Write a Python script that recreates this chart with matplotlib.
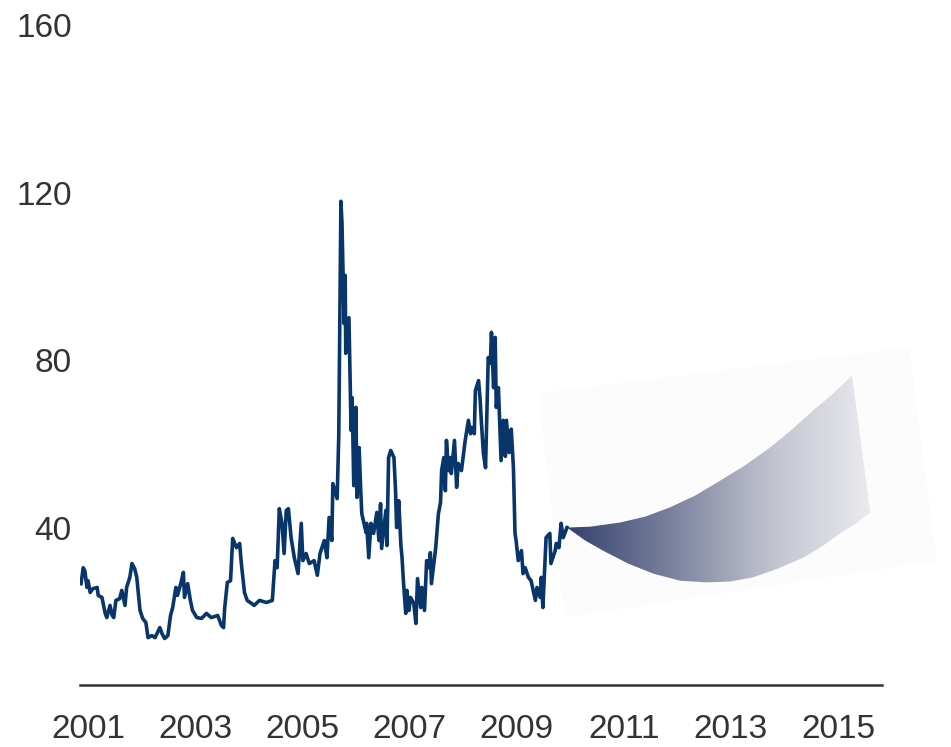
import numpy as np
import matplotlib.pyplot as plt
from matplotlib.colors import LinearSegmentedColormap
from matplotlib.patches import Polygon

plt.rcParams['font.family'] = ['Liberation Sans', 'DejaVu Sans']

# historical series (decimal year, value)
years = [2000.87, 2000.91, 2000.94, 2000.98, 2001.00, 2001.04, 2001.09, 2001.17, 2001.19, 2001.26,
         2001.32, 2001.35, 2001.41, 2001.45, 2001.48, 2001.52, 2001.59, 2001.63, 2001.69, 2001.72,
         2001.78, 2001.82, 2001.87, 2001.91, 2001.97, 2002.02, 2002.08, 2002.12, 2002.19, 2002.25,
         2002.34, 2002.38, 2002.43, 2002.49, 2002.54, 2002.58, 2002.64, 2002.67, 2002.73, 2002.78,
         2002.80, 2002.86, 2002.91, 2002.95, 2003.03, 2003.12, 2003.21, 2003.30, 2003.42, 2003.49,
         2003.53, 2003.55, 2003.60, 2003.66, 2003.70, 2003.77, 2003.83, 2003.86, 2003.92, 2003.97,
         2004.05, 2004.10, 2004.20, 2004.33, 2004.44, 2004.49, 2004.53, 2004.57, 2004.62, 2004.66,
         2004.70, 2004.74, 2004.79, 2004.85, 2004.92, 2004.98, 2005.01, 2005.07, 2005.13, 2005.22,
         2005.28, 2005.33, 2005.41, 2005.46, 2005.50, 2005.55, 2005.57, 2005.65, 2005.68, 2005.72,
         2005.74, 2005.78, 2005.80, 2005.81, 2005.87, 2005.91, 2005.93, 2005.96, 2006.00, 2006.02,
         2006.06, 2006.09, 2006.11, 2006.19, 2006.20, 2006.24, 2006.28, 2006.33, 2006.39, 2006.43,
         2006.46, 2006.48, 2006.56, 2006.58, 2006.61, 2006.65, 2006.71, 2006.74, 2006.76, 2006.80,
         2006.84, 2006.86, 2006.89, 2006.93, 2006.95, 2006.99, 2007.02, 2007.08, 2007.12, 2007.15,
         2007.21, 2007.23, 2007.28, 2007.32, 2007.36, 2007.39, 2007.41, 2007.49, 2007.54, 2007.58,
         2007.60, 2007.64, 2007.67, 2007.69, 2007.73, 2007.77, 2007.78, 2007.84, 2007.88, 2007.91,
         2007.97, 2008.01, 2008.04, 2008.10, 2008.14, 2008.16, 2008.21, 2008.23, 2008.29, 2008.32,
         2008.34, 2008.38, 2008.42, 2008.47, 2008.51, 2008.53, 2008.57, 2008.60, 2008.62, 2008.66,
         2008.71, 2008.75, 2008.79, 2008.81, 2008.86, 2008.90, 2008.94, 2008.97, 2008.99, 2009.03,
         2009.09, 2009.12, 2009.16, 2009.22, 2009.27, 2009.35, 2009.38, 2009.44, 2009.46, 2009.49,
         2009.55, 2009.62, 2009.64, 2009.72, 2009.74, 2009.79, 2009.83, 2009.87, 2009.94]
values = [26.6, 30.4, 29.7, 25.7, 27.3, 24.5, 25.4, 25.7, 23.8, 23.3,
          19.5, 18.5, 21.4, 19.0, 18.5, 22.6, 23.0, 25.0, 21.4, 25.7,
          28.1, 31.4, 30.2, 28.1, 20.2, 18.3, 17.3, 13.7, 14.2, 13.7,
          16.1, 14.7, 13.5, 14.2, 19.0, 20.9, 25.7, 23.8, 26.6, 29.3,
          23.3, 26.6, 22.6, 20.2, 18.5, 18.3, 19.5, 18.5, 19.0, 16.6,
          16.1, 20.7, 26.9, 27.3, 37.4, 35.2, 36.2, 31.6, 24.5, 22.6,
          21.9, 21.4, 22.6, 22.1, 22.6, 32.1, 30.4, 44.5, 41.0, 33.8,
          44.1, 44.5, 37.6, 32.8, 29.0, 41.0, 32.1, 33.8, 31.4, 32.1,
          28.6, 33.8, 36.9, 32.8, 42.4, 36.9, 50.5, 46.9, 62.0, 117.9,
          112.8, 88.7, 100.2, 81.6, 90.1, 63.2, 71.0, 50.0, 68.7, 47.2,
          59.1, 48.8, 43.3, 38.8, 41.0, 32.8, 41.0, 38.6, 43.6, 36.9,
          45.7, 35.0, 44.1, 35.7, 56.7, 58.4, 56.7, 48.8, 40.0, 46.4,
          35.7, 33.0, 26.6, 19.5, 25.0, 20.2, 23.3, 21.9, 17.1, 27.8,
          20.9, 25.7, 20.2, 32.1, 30.4, 34.0, 26.6, 35.2, 43.3, 46.0,
          53.6, 56.7, 48.8, 60.8, 53.6, 56.7, 52.9, 60.8, 49.6, 55.3,
          53.6, 57.7, 60.8, 65.6, 62.4, 63.9, 62.4, 72.7, 75.1, 70.3,
          65.6, 57.7, 54.3, 80.6, 79.2, 86.6, 73.4, 85.4, 68.7, 73.4,
          56.0, 65.6, 57.0, 65.6, 57.9, 63.5, 54.3, 38.6, 36.9, 32.1,
          34.5, 29.0, 30.4, 28.1, 27.3, 22.6, 25.7, 23.3, 28.1, 20.9,
          37.6, 38.6, 31.4, 34.5, 36.2, 35.2, 41.0, 37.6, 40.0]

# forecast fan bounds
fan_up_years = [2009.94, 2010.37, 2010.93, 2011.40, 2011.86, 2012.33, 2012.80,
                2013.26, 2013.73, 2014.14, 2014.53, 2014.91, 2015.26]
fan_up_values = [40.0, 40.2, 41.2, 42.6, 44.8, 47.6, 51.2, 54.8, 59.1, 63.4, 67.9, 72.0, 76.3]
fan_lo_years = [2009.94, 2010.28, 2010.61, 2011.08, 2011.55, 2012.05, 2012.55, 2012.98,
                2013.41, 2013.88, 2014.35, 2014.70, 2015.04, 2015.34, 2015.60]
fan_lo_values = [40.0, 36.9, 34.5, 31.4, 29.0, 27.3, 26.9, 27.1,
                 28.1, 30.2, 32.8, 35.5, 38.6, 41.0, 43.6]

xticks = [2001, 2003, 2005, 2007, 2009, 2011, 2013, 2015]
yticks = [40, 80, 120, 160]

fig = plt.figure(figsize=(9.51, 7.47), dpi=100)
ax = fig.add_axes([80 / 951, 1 - 685 / 747, 802 / 951, 660 / 747])

# faint backdrop card behind the fan
card = Polygon([(2009.40, 72.0), (2016.32, 83.0), (2016.84, 32.1), (2009.90, 18.5)],
               closed=True, fc='#fcfcfc', ec='none', zorder=0, clip_on=False)
ax.add_patch(card)

# fan with horizontal gradient
fan_pts = list(zip(fan_up_years, fan_up_values)) + list(zip(fan_lo_years, fan_lo_values))[::-1]
fan = Polygon(fan_pts, closed=True, fc='none', ec='none')
ax.add_patch(fan)
cmap = LinearSegmentedColormap.from_list('fan', ['#33406c', '#7a819d', '#c2c4d0', '#eeeef1'])
grad = np.linspace(0, 1, 256).reshape(1, -1)
im = ax.imshow(grad, cmap=cmap, aspect='auto', interpolation='bilinear',
               extent=(2009.9, 2015.75, 20, 80), origin='lower', zorder=1)
im.set_clip_path(fan)

ax.plot(years, values, color='#08356a', lw=2.6, zorder=3)

ax.set_xlim(2000.85, 2015.82)
ax.set_ylim(2.4, 160)
ax.set_xticks(xticks)
ax.set_xticklabels([str(t) for t in xticks])
ax.set_yticks(yticks)
ax.tick_params(axis='both', length=0, labelsize=24, colors='#333333')
ax.tick_params(axis='x', pad=21)
ax.tick_params(axis='y', pad=6)
for s in ['top', 'right', 'left']:
    ax.spines[s].set_visible(False)
ax.spines['bottom'].set_color('#333333')
ax.spines['bottom'].set_linewidth(1.8)

fig.savefig('out.png', dpi=100)
